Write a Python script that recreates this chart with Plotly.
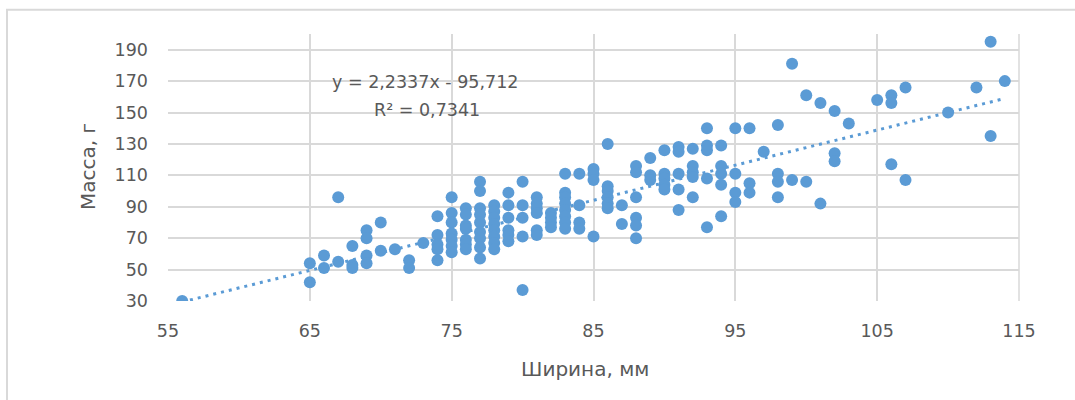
import plotly.graph_objects as go

# Width (mm) and mass (g) of each specimen, grouped by width
width_mm = [
    56,
    65, 65,
    66, 66,
    67, 67,
    68, 68, 68,
    69, 69, 69, 69,
    70, 70,
    71,
    72, 72,
    73,
    74, 74, 74, 74, 74,
    75, 75, 75, 75, 75, 75, 75,
    76, 76, 76, 76, 76, 76, 76,
    77, 77, 77, 77, 77, 77, 77, 77, 77,
    78, 78, 78, 78, 78, 78, 78, 78,
    79, 79, 79, 79, 79, 79,
    80, 80, 80, 80, 80,
    81, 81, 81, 81, 81, 81,
    82, 82, 82, 82,
    83, 83, 83, 83, 83, 83, 83, 83,
    84, 84, 84, 84,
    85, 85, 85, 85,
    86, 86, 86, 86, 86, 86,
    87, 87,
    88, 88, 88, 88, 88, 88,
    89, 89, 89,
    90, 90, 90, 90, 90,
    91, 91, 91, 91, 91,
    92, 92, 92, 92, 92,
    93, 93, 93, 93, 93,
    94, 94, 94, 94, 94,
    95, 95, 95, 95,
    96, 96, 96,
    97,
    98, 98, 98, 98,
    99, 99,
    100, 100,
    101, 101,
    102, 102, 102,
    103,
    105,
    106, 106, 106,
    107, 107,
    110,
    112,
    113, 113,
    114,
]

mass_g = [
    30,
    54, 42,
    59, 51,
    96, 55,
    65, 53, 51,
    75, 70, 59, 54,
    80, 62,
    63,
    56, 51,
    67,
    84, 72, 66, 63, 56,
    96, 86, 80, 73, 69, 65, 61,
    89, 85, 78, 76, 69, 66, 63,
    106, 100, 89, 85, 80, 74, 70, 64, 57,
    91, 87, 83, 79, 75, 71, 67, 63,
    99, 91, 83, 75, 72, 68,
    106, 91, 83, 71, 37,
    96, 92, 89, 86, 75, 72,
    86, 83, 80, 77,
    111, 99, 96, 92, 88, 84, 80, 76,
    111, 91, 80, 76,
    114, 111, 107, 71,
    130, 103, 100, 96, 92, 89,
    91, 79,
    116, 112, 96, 83, 78, 70,
    121, 110, 107,
    126, 111, 108, 104, 101,
    128, 125, 111, 101, 88,
    127, 116, 112, 109, 96,
    140, 129, 126, 108, 77,
    129, 116, 111, 104, 84,
    140, 111, 99, 93,
    140, 105, 99,
    125,
    142, 111, 106, 96,
    181, 107,
    161, 106,
    156, 92,
    151, 124, 119,
    143,
    158,
    161, 156, 117,
    166, 107,
    150,
    166,
    195, 135,
    170,
]

# Linear trendline coefficients and the label text shown on the chart
slope = 2.2337
intercept = -95.712
equation_label = "y = 2,2337x - 95,712"
r2_label = "R² = 0,7341"

x_ticks = [55, 65, 75, 85, 95, 105, 115]
y_ticks = [30, 50, 70, 90, 110, 130, 150, 170, 190]
x_title = "Ширина, мм"
y_title = "Масса, г"

blue = "#5B9BD5"
grey_text = "#595959"
grid = "#D9D9D9"
font_family = "DejaVu Sans, Verdana, sans-serif"

trend_x = [min(width_mm), max(width_mm)]
trend_y = [slope * v + intercept for v in trend_x]

fig = go.Figure()

fig.add_trace(go.Scatter(
    x=trend_x, y=trend_y, mode="lines",
    line=dict(color=blue, width=3, dash="3px,5px"),
    hoverinfo="skip", showlegend=False,
))

fig.add_trace(go.Scatter(
    x=width_mm, y=mass_g, mode="markers",
    marker=dict(color=blue, size=12, line=dict(width=0)),
    showlegend=False,
))

fig.update_layout(
    width=1075, height=400,
    margin=dict(l=168, r=56, t=34, b=99, autoexpand=False),
    paper_bgcolor="white", plot_bgcolor="white",
    font=dict(family=font_family, color=grey_text, size=17.5),
    xaxis=dict(
        range=[55, 115], tickvals=x_ticks, showgrid=True, gridcolor=grid,
        gridwidth=1.5, zeroline=False, showline=False, ticks="",
        ticklabelstandoff=17, tickfont=dict(size=17.5, color=grey_text),
    ),
    yaxis=dict(
        range=[30, 200], tickvals=y_ticks, showgrid=True, gridcolor=grid,
        gridwidth=1.5, zeroline=False, showline=False, ticks="",
        ticklabelstandoff=19, tickfont=dict(size=17.5, color=grey_text),
    ),
    shapes=[
        # outer chart frame
        dict(type="rect", xref="paper", yref="paper",
             x0=-0.1892, x1=1.08, y0=-0.42, y1=1.0912,
             line=dict(color=grid, width=2), fillcolor="rgba(0,0,0,0)",
             layer="below"),
        # right edge of the plot area
        dict(type="line", xref="paper", yref="paper", x0=1, x1=1, y0=0, y1=1,
             line=dict(color=grid, width=1.5), layer="below"),
    ],
    annotations=[
        dict(text=equation_label, xref="paper", yref="paper", x=0.302, y=0.821,
             showarrow=False, xanchor="center", yanchor="middle",
             font=dict(size=17.5, color=grey_text)),
        dict(text=r2_label, xref="paper", yref="paper", x=0.304, y=0.716,
             showarrow=False, xanchor="center", yanchor="middle",
             font=dict(size=17.5, color=grey_text)),
        dict(text=x_title, xref="paper", yref="paper", x=0.49, y=-0.253,
             showarrow=False, xanchor="center", yanchor="middle",
             font=dict(size=20, color=grey_text)),
        dict(text=y_title, xref="paper", yref="paper", x=-0.094, y=0.502,
             showarrow=False, xanchor="center", yanchor="middle", textangle=-90,
             font=dict(size=20, color=grey_text)),
    ],
)

fig.write_html("out.html")
